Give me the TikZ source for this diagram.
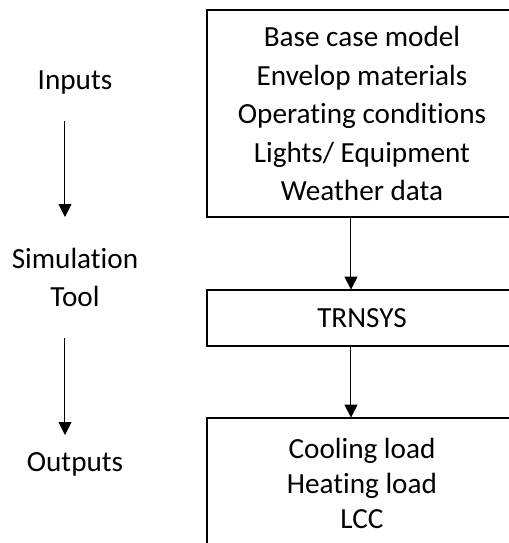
\documentclass[tikz,border=0pt]{standalone}
\usepackage{fontspec}
\setmainfont{Carlito}[Ligatures=NoCommon]
\usetikzlibrary{arrows.meta}

\tikzset{
  stagebox/.style={minimum width=155pt,align=center,inner sep=0pt},
  boxframe/.style={draw,line width=1pt},
  flowarrow/.style={-{Triangle[width=6.5pt,length=6.5pt]},line width=0.5pt},
}

\begin{document}
\begin{tikzpicture}[x=0.5pt,y=-0.5pt,font=\fontsize{14.6}{19.25}\selectfont]

	% Frame, cut off on the right and at the bottom
	\useasboundingbox (0,0) rectangle (509,543);
	\clip (0,0) rectangle (509,543);

	% Boxes on the right
	\node[stagebox,minimum height=103.5pt] (inputbox) at (362,113.5)
	{Base case model\\Envelop materials\\Operating conditions\\Lights/ Equipment\\Weather data};
	\node[stagebox,minimum height=28pt] (toolbox) at (362,318) {TRNSYS};
	\node[stagebox,minimum height=65pt,font=\fontsize{14.6}{17.5}\selectfont] (outputbox) at (362,483)
	{Cooling load\\Heating load\\LCC};
	% their outlines run past the right edge
	\draw[boxframe] (inputbox.south west) rectangle ([xshift=20pt]inputbox.north east);
	\draw[boxframe] (toolbox.south west) rectangle ([xshift=20pt]toolbox.north east);
	\draw[boxframe] ([yshift=-20pt]outputbox.south west) rectangle ([xshift=20pt]outputbox.north east);

	% Arrows between the boxes
	\draw[flowarrow] ([xshift=-5.5pt]inputbox.south) -- ([xshift=-5.5pt]toolbox.north);
	\draw[flowarrow] ([xshift=-5.5pt]toolbox.south) -- ([xshift=-5.5pt]outputbox.north);

	% Stage labels on the left
	\node (inputs) at (75,82) {Inputs};
	\node[align=center] (simtool) at (75,277.5) {Simulation\\Tool};
	\node (outputs) at (75,464) {Outputs};

	% Arrows between the stage labels
	\coordinate (inarrowtop) at (65,121);
	\coordinate (inarrowtip) at (65,217);
	\coordinate (outarrowtop) at (65,338);
	\coordinate (outarrowtip) at (65,435);
	\draw[flowarrow] (inarrowtop) -- (inarrowtip);
	\draw[flowarrow] (outarrowtop) -- (outarrowtip);

\end{tikzpicture}
\end{document}
